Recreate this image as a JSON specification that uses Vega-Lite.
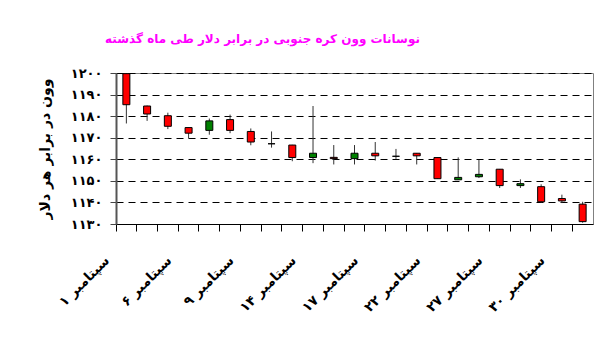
{
  "$schema": "https://vega.github.io/schema/vega-lite/v6.json",
  "width": 477,
  "height": 151,
  "autosize": "none",
  "padding": {"left": 116, "top": 73, "right": 11, "bottom": 116},
  "background": "white",
  "title": {
    "text": "نوسانات وون کره جنوبی در برابر دلار طی ماه گذشته",
    "color": "#FF00FF",
    "fontSize": 12,
    "font": "DejaVu Sans",
    "fontWeight": "bold",
    "anchor": "middle",
    "frame": "group",
    "dx": -92,
    "baseline": "bottom",
    "offset": 9
  },
  "config": {
    "view": {"stroke": "#808080", "strokeWidth": 1},
    "font": "DejaVu Sans"
  },
  "data": {
    "values": [
      {"date": "سپتامبر ۱", "open": 1199.7, "high": 1200.0, "low": 1176.6, "close": 1185.3},
      {"date": "سپتامبر ۲", "open": 1184.7, "high": 1184.9, "low": 1177.8, "close": 1181.0},
      {"date": "سپتامبر ۵", "open": 1180.2, "high": 1181.6, "low": 1174.0, "close": 1175.3},
      {"date": "سپتامبر ۶", "open": 1174.7, "high": 1174.8, "low": 1169.7, "close": 1172.1},
      {"date": "سپتامبر ۷", "open": 1173.4, "high": 1178.9, "low": 1171.4, "close": 1177.8},
      {"date": "سپتامبر ۸", "open": 1178.4, "high": 1180.7, "low": 1172.1, "close": 1173.4},
      {"date": "سپتامبر ۹", "open": 1172.9, "high": 1174.3, "low": 1166.5, "close": 1168.0},
      {"date": "سپتامبر ۱۲", "open": 1167.2, "high": 1172.9, "low": 1165.4, "close": 1167.2},
      {"date": "سپتامبر ۱۳", "open": 1166.6, "high": 1166.7, "low": 1159.1, "close": 1160.8},
      {"date": "سپتامبر ۱۴", "open": 1160.8, "high": 1184.7, "low": 1158.2, "close": 1162.8},
      {"date": "سپتامبر ۱۵", "open": 1160.9, "high": 1166.6, "low": 1157.6, "close": 1160.3},
      {"date": "سپتامبر ۱۶", "open": 1160.3, "high": 1166.6, "low": 1157.6, "close": 1162.8},
      {"date": "سپتامبر ۱۷", "open": 1162.8, "high": 1168.0, "low": 1159.4, "close": 1161.6},
      {"date": "سپتامبر ۲۰", "open": 1161.4, "high": 1164.8, "low": 1160.2, "close": 1161.4},
      {"date": "سپتامبر ۲۱", "open": 1162.8, "high": 1162.9, "low": 1157.6, "close": 1161.6},
      {"date": "سپتامبر ۲۲", "open": 1160.8, "high": 1160.9, "low": 1151.0, "close": 1151.0},
      {"date": "سپتامبر ۲۳", "open": 1150.5, "high": 1160.9, "low": 1150.5, "close": 1151.6},
      {"date": "سپتامبر ۲۶", "open": 1151.9, "high": 1159.7, "low": 1151.3, "close": 1153.0},
      {"date": "سپتامبر ۲۷", "open": 1155.4, "high": 1155.5, "low": 1146.7, "close": 1147.8},
      {"date": "سپتامبر ۲۸", "open": 1147.8, "high": 1150.7, "low": 1146.7, "close": 1148.7},
      {"date": "سپتامبر ۲۹", "open": 1147.3, "high": 1148.4, "low": 1139.8, "close": 1140.3},
      {"date": "سپتامبر ۳۰", "open": 1141.8, "high": 1143.6, "low": 1139.7, "close": 1140.7},
      {"date": "اکتبر ۱", "open": 1139.2, "high": 1140.3, "low": 1130.6, "close": 1131.1}
    ]
  },
  "encoding": {
    "x": {
      "field": "date",
      "type": "ordinal",
      "sort": null,
      "scale": {"paddingInner": 0, "paddingOuter": 0},
      "axis": {
        "title": null,
        "bandPosition": 0,
        "labelAngle": -45,
        "labelAlign": "right",
        "labelBaseline": "middle",
        "labelOffset": -19,
        "labelPadding": 27,
        "labelOverlap": false,
        "labelFont": "DejaVu Sans",
        "labelFontSize": 13.5,
        "labelFontWeight": "bold",
        "labelColor": "black",
        "labelExpr": "indexof(['سپتامبر ۱','سپتامبر ۶','سپتامبر ۹','سپتامبر ۱۴','سپتامبر ۱۷','سپتامبر ۲۲','سپتامبر ۲۷','سپتامبر ۳۰'], datum.value) >= 0 ? datum.value : ''",
        "tickSize": 7,
        "tickColor": "black",
        "domainColor": "black",
        "domainWidth": 1,
        "grid": false
      }
    }
  },
  "layer": [
    {
      "mark": {"type": "rule", "color": "#333333", "strokeWidth": 1},
      "encoding": {
        "y": {
          "field": "low",
          "type": "quantitative",
          "scale": {"domain": [1130, 1200], "nice": false, "zero": false},
          "axis": {
            "title": "وون در برابر هر دلار",
            "titleFont": "DejaVu Sans",
            "titleFontSize": 14,
            "titleFontWeight": "bold",
            "titleColor": "black",
            "titlePadding": 18,
            "values": [1130, 1140, 1150, 1160, 1170, 1180, 1190, 1200],
            "tickCount": 20,
            "format": "d",
            "labelOverlap": false,
            "labelFont": "DejaVu Sans",
            "labelFontSize": 13,
            "labelFontWeight": "bold",
            "labelColor": "black",
            "labelPadding": 8,
            "tickSize": 6,
            "tickColor": "#444444",
            "domainColor": "#555555",
            "domainWidth": 2,
            "grid": true,
            "gridColor": "black",
            "gridDash": [7, 5],
            "gridWidth": 1,
            "labelExpr": "replace(replace(replace(replace(replace(replace(replace(replace(replace(replace(datum.label, regexp('0','g'), '۰'), regexp('1','g'), '۱'), regexp('2','g'), '۲'), regexp('3','g'), '۳'), regexp('4','g'), '۴'), regexp('5','g'), '۵'), regexp('6','g'), '۶'), regexp('7','g'), '۷'), regexp('8','g'), '۸'), regexp('9','g'), '۹')"
          }
        },
        "y2": {"field": "high"}
      }
    },
    {
      "mark": {"type": "bar", "size": 7, "stroke": "black", "strokeWidth": 1},
      "encoding": {
        "y": {
          "field": "open",
          "type": "quantitative",
          "scale": {"domain": [1130, 1200], "nice": false, "zero": false},
          "axis": {
            "title": "وون در برابر هر دلار",
            "titleFont": "DejaVu Sans",
            "titleFontSize": 14,
            "titleFontWeight": "bold",
            "titleColor": "black",
            "titlePadding": 18,
            "values": [1130, 1140, 1150, 1160, 1170, 1180, 1190, 1200],
            "tickCount": 20,
            "format": "d",
            "labelOverlap": false,
            "labelFont": "DejaVu Sans",
            "labelFontSize": 13,
            "labelFontWeight": "bold",
            "labelColor": "black",
            "labelPadding": 8,
            "tickSize": 6,
            "tickColor": "#444444",
            "domainColor": "#555555",
            "domainWidth": 2,
            "grid": true,
            "gridColor": "black",
            "gridDash": [7, 5],
            "gridWidth": 1,
            "labelExpr": "replace(replace(replace(replace(replace(replace(replace(replace(replace(replace(datum.label, regexp('0','g'), '۰'), regexp('1','g'), '۱'), regexp('2','g'), '۲'), regexp('3','g'), '۳'), regexp('4','g'), '۴'), regexp('5','g'), '۵'), regexp('6','g'), '۶'), regexp('7','g'), '۷'), regexp('8','g'), '۸'), regexp('9','g'), '۹')"
          }
        },
        "y2": {"field": "close"},
        "fill": {
          "condition": {"test": "datum.close > datum.open", "value": "#008000"},
          "value": "#FF0000"
        }
      }
    }
  ]
}
